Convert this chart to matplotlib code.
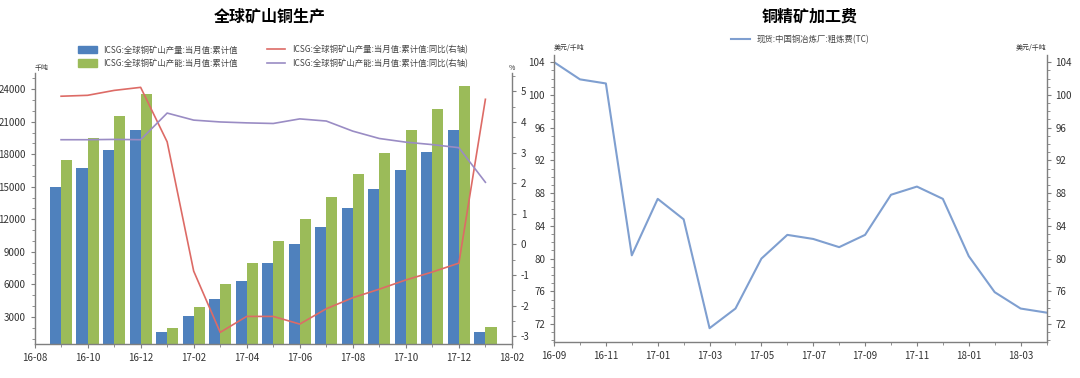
import matplotlib
matplotlib.use("Agg")
import matplotlib.pyplot as plt
from matplotlib.ticker import MultipleLocator
from matplotlib.patches import Patch
from matplotlib.lines import Line2D

plt.rcParams["font.family"] = ["Noto Sans CJK SC", "DejaVu Sans"]
plt.rcParams["axes.unicode_minus"] = False

# left chart: ICSG global copper mine production / capacity (kt, cumulative) and yoy (%)
months_left = ["16-09", "16-10", "16-11", "16-12", "17-01", "17-02", "17-03", "17-04",
               "17-05", "17-06", "17-07", "17-08", "17-09", "17-10", "17-11", "17-12", "18-01"]
prod_cum = [14980, 16700, 18350, 20200, 1640, 3100, 4650, 6300, 8000, 9700,
            11300, 13050, 14800, 16550, 18250, 20200, 1650]
cap_cum = [17500, 19500, 21500, 23550, 2000, 3900, 6000, 8000, 10000, 12050,
           14050, 16200, 18150, 20250, 22200, 24300, 2100]
prod_yoy = [4.84, 4.87, 5.03, 5.13, 3.35, -0.87, -2.87, -2.35, -2.35, -2.6,
            -2.1, -1.74, -1.46, -1.16, -0.9, -0.61, 4.74]
cap_yoy = [3.42, 3.42, 3.43, 3.42, 4.29, 4.06, 4.0, 3.97, 3.95, 4.1,
           4.03, 3.7, 3.46, 3.34, 3.26, 3.16, 2.03]
left_ticklabels = ["16-08", "16-10", "16-12", "17-02", "17-04", "17-06",
                   "17-08", "17-10", "17-12", "18-02"]

# right chart: China smelter TC (USD/t)
months_right = ["16-09", "16-10", "16-11", "16-12", "17-01", "17-02", "17-03", "17-04",
                "17-05", "17-06", "17-07", "17-08", "17-09", "17-10", "17-11", "17-12",
                "18-01", "18-02", "18-03", "18-04"]
tc = [104.0, 101.9, 101.4, 80.4, 87.3, 84.8, 71.5, 73.9, 80.0, 82.9,
      82.4, 81.4, 82.9, 87.8, 88.8, 87.3, 80.3, 75.9, 73.9, 73.4]
right_ticklabels = ["16-09", "16-11", "17-01", "17-03", "17-05", "17-07",
                    "17-09", "17-11", "18-01", "18-03"]

BLUE = "#4f81bd"
GREEN = "#9bbb59"
RED = "#dd6b66"
PURPLE = "#9a8cc4"
TCBLUE = "#7f9fd0"
AXC = "#7f7f7f"
TXT = "#333333"


def style_axis(ax, sides):
    for s in ["top", "left", "right", "bottom"]:
        ax.spines[s].set_visible(s in sides)
        ax.spines[s].set_color(AXC)
        ax.spines[s].set_linewidth(1.0)
    ax.tick_params(which="both", colors=AXC, labelcolor=TXT, labelsize=7, direction="out")
    ax.tick_params(which="major", length=3)
    ax.tick_params(which="minor", length=2)


fig = plt.figure(figsize=(10.8, 3.78), dpi=100)

# ---------------- left chart ----------------
ax = fig.add_axes([0.032, 0.09, 0.442, 0.717])
x = list(range(1, len(months_left) + 1))
w = 0.42
ax.bar([i - w / 2 for i in x], prod_cum, width=w, color=BLUE)
ax.bar([i + w / 2 for i in x], cap_cum, width=w, color=GREEN)
ax.set_xlim(0, 18)
ax.set_ylim(500, 25500)
ax.set_yticks(range(3000, 24001, 3000))
ax.yaxis.set_minor_locator(MultipleLocator(1000))
ax.set_xticks(range(0, 19, 2))
ax.set_xticklabels(left_ticklabels)
ax.xaxis.set_minor_locator(MultipleLocator(1))
style_axis(ax, ["left", "bottom"])

ax2 = ax.twinx()
ax2.plot(x, prod_yoy, color=RED, lw=1.2)
ax2.plot(x, cap_yoy, color=PURPLE, lw=1.2)
ax2.set_ylim(-3.25, 5.6)
ax2.set_yticks(range(-3, 6))
ax2.yaxis.set_minor_locator(MultipleLocator(0.5))
style_axis(ax2, ["right"])

ax.text(0.0, 1.005, "千吨", transform=ax.transAxes, fontsize=5, color=TXT, ha="left", va="bottom")
ax2.text(1.0, 1.005, "%", transform=ax2.transAxes, fontsize=5, color=TXT, ha="center", va="bottom")

handles = [Patch(color=BLUE), Patch(color=GREEN),
           Line2D([], [], color=RED, lw=1.2), Line2D([], [], color=PURPLE, lw=1.2)]
labels = ["ICSG:全球铜矿山产量:当月值:累计值", "ICSG:全球铜矿山产能:当月值:累计值",
          "ICSG:全球铜矿山产量:当月值:累计值:同比(右轴)", "ICSG:全球铜矿山产能:当月值:累计值:同比(右轴)"]
leg = ax.legend(handles, labels, ncol=2, loc="lower center", bbox_to_anchor=(0.5, 1.0),
                frameon=False, fontsize=6, handlelength=2.2, handleheight=1.0,
                columnspacing=3.5, labelspacing=0.5, borderaxespad=0.2)
for t in leg.get_texts():
    t.set_color("#444444")

fig.text(0.25, 0.955, "全球矿山铜生产", ha="center", va="center", fontsize=11.5, fontweight="bold")

# ---------------- right chart ----------------
bx = fig.add_axes([0.513, 0.095, 0.456, 0.76])
xr = list(range(len(months_right)))
bx.plot(xr, tc, color=TCBLUE, lw=1.5, label="现货:中国铜冶炼厂:粗炼费(TC)")
bx.set_xlim(0, 19)
bx.set_ylim(69.8, 104.9)
bx.set_yticks(range(72, 105, 4))
bx.yaxis.set_minor_locator(MultipleLocator(1))
bx.set_xticks(range(0, 19, 2))
bx.set_xticklabels(right_ticklabels)
bx.xaxis.set_minor_locator(MultipleLocator(1))
style_axis(bx, ["left", "bottom"])

bx2 = bx.twinx()
bx2.set_ylim(69.8, 104.9)
bx2.set_yticks(range(72, 105, 4))
bx2.yaxis.set_minor_locator(MultipleLocator(1))
style_axis(bx2, ["right"])

bx.text(0.0, 1.01, "美元/千吨", transform=bx.transAxes, fontsize=5, color=TXT, ha="left", va="bottom")
bx2.text(1.0, 1.01, "美元/千吨", transform=bx2.transAxes, fontsize=5, color=TXT, ha="right", va="bottom")

leg2 = bx.legend(loc="lower center", bbox_to_anchor=(0.5, 1.02), frameon=False,
                 fontsize=6, handlelength=2.2, borderaxespad=0.2)
for t in leg2.get_texts():
    t.set_color("#444444")

fig.text(0.75, 0.955, "铜精矿加工费", ha="center", va="center", fontsize=11.5, fontweight="bold")

fig.savefig("out.png", dpi=100)
